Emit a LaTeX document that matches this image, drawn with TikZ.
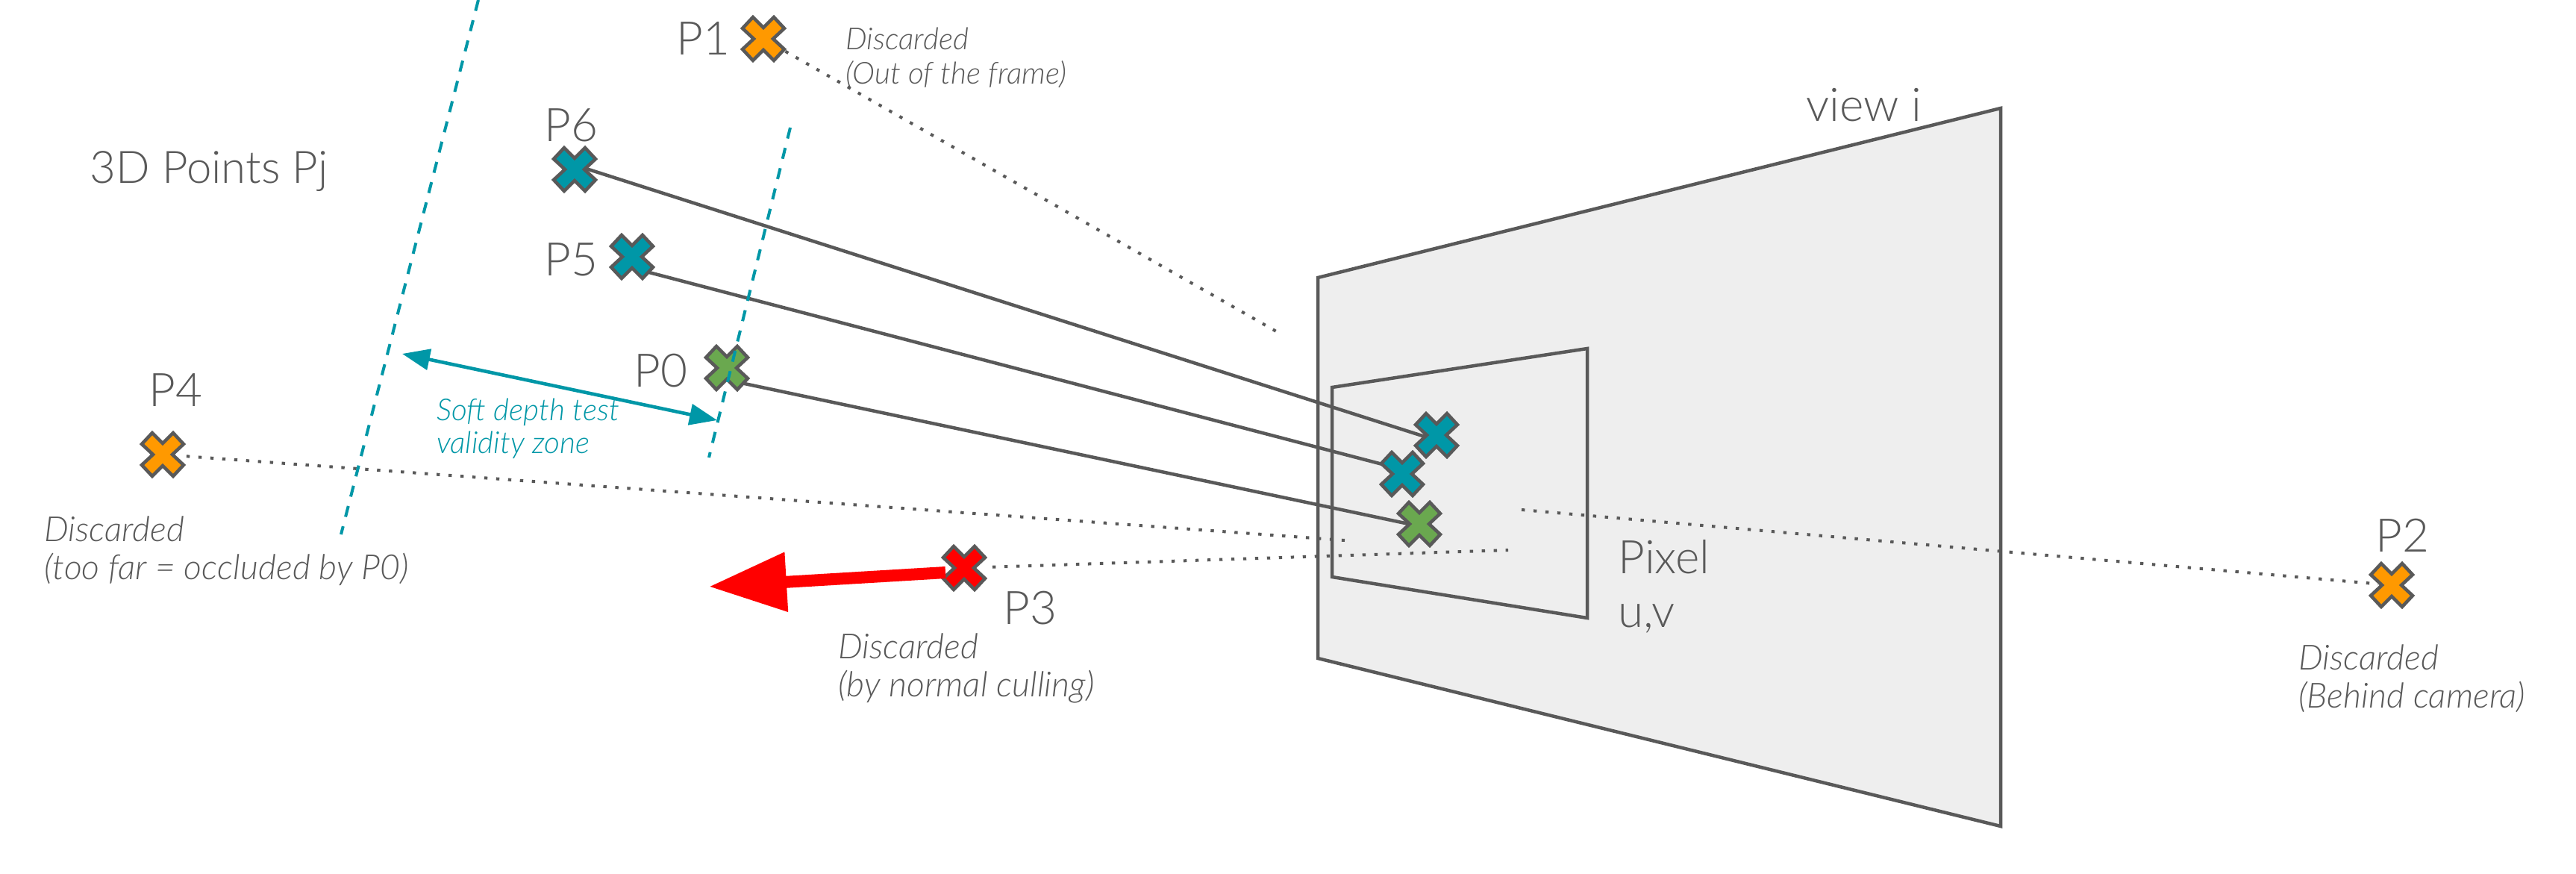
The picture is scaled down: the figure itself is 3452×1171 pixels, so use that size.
\documentclass[tikz,border=0pt]{standalone}
\usepackage{fontspec}
\setmainfont{Lato}[UprightFont={* Light},ItalicFont={* Light Italic}]
\usetikzlibrary{arrows.meta}
\definecolor{ink}{HTML}{595959}
\definecolor{tealc}{HTML}{0097A7}
\definecolor{orangec}{HTML}{FF9900}
\definecolor{greenc}{HTML}{6AA84F}
\definecolor{redc}{HTML}{FF0000}
\definecolor{planec}{HTML}{EEEEEE}
\tikzset{
  anchorpt/.style={circle,inner sep=0pt,minimum size=14pt},
  frameline/.style={draw=ink,line width=2.25pt,line join=miter},
  ray/.style={draw=ink,line width=2.25pt},
  dotline/.style={draw=ink,line width=2pt,dash pattern=on 2.2pt off 5.8pt},
  zoneline/.style={draw=tealc,line width=2pt,dash pattern=on 7.5pt off 6.5pt},
  crossmark/.style={draw=ink,line width=2.25pt,line join=miter},
  lab/.style={text=ink,inner sep=0pt,anchor=base west,font=\fontsize{31}{36}\selectfont},
  note/.style={text=ink,inner sep=0pt,anchor=north west,align=left,font=\fontsize{23.2}{25.5}\selectfont\itshape},
  smallnote/.style={note,font=\fontsize{20.3}{23}\selectfont\itshape},
  tealnote/.style={note,text=tealc,font=\fontsize{20.3}{22}\selectfont\itshape},
}
\newcommand{\crosspoly}[2]{%
  \draw[crossmark,fill=#2,shift={(#1)}] (-14,-29)--(0,-15)--(14,-29)--(28,-14)--(13,0)--(28,14)--(14,29)--(0,15)--(-14,29)--(-28,14)--(-13,0)--(-28,-14)--cycle;}
\begin{document}
\begin{tikzpicture}[x=0.5pt,y=-0.5pt]
\useasboundingbox[fill=white] (0,0) rectangle (3452,1171);
% view frames
\path[frameline,fill=planec] (1766,372)--(2681,145)--(2681,1107)--(1766,882)--cycle;
\path[frameline] (1785,519)--(2127,467)--(2127,828)--(1785,773)--cycle;
% point anchors
\node[anchorpt] (p0) at (974,493) {};
\node[anchorpt] (p1) at (1023,52) {};
\node[anchorpt] (p2) at (3205,784) {};
\node[anchorpt] (p3) at (1292,761) {};
\node[anchorpt] (p4) at (218,609) {};
\node[anchorpt] (p5) at (847,344) {};
\node[anchorpt] (p6) at (770,227) {};
\node[anchorpt] (q6) at (1925,583) {};
\node[anchorpt] (q5) at (1879,635) {};
\node[anchorpt] (q0) at (1902,702) {};
\coordinate (e1) at (1712,445);
\coordinate (e2) at (2039,683);
\coordinate (e3) at (2021,737);
\coordinate (e4) at (1802,724);
\coordinate (n3) at (950,786);
\coordinate (za) at (1059,171);
\coordinate (zb) at (950,613);
\coordinate (zc) at (641,0);
\coordinate (zd) at (457,716);
\coordinate (va) at (539,474);
\coordinate (vb) at (961,563);
% rays
\draw[ray] ([shift={(0,-6)}]p6.center) -- ([shift={(0,7)}]q6.center);
\draw[ray] ([shift={(0,15)}]p5.center) -- ([shift={(0,-6)}]q5.center);
\draw[ray] ([shift={(0,16)}]p0.center) -- ([shift={(0,3)}]q0.center);
% discarded rays
\draw[dotline,shorten <=9pt] (p1.center) -- (e1);
\draw[dotline,shorten >=9pt] (e2) -- (p2.center);
\draw[dotline,shorten <=19pt] (p3.center) -- (e3);
\draw[dotline,shorten <=16pt] (p4.center) -- (e4);
% crosses
\crosspoly{1023,52}{orangec}
\crosspoly{770,227}{tealc}
\crosspoly{847,344}{tealc}
\crosspoly{974,493}{greenc}
\crosspoly{218,609}{orangec}
\crosspoly{1292,761}{redc}
\crosspoly{3205,784}{orangec}
\crosspoly{1925,583}{tealc}
\crosspoly{1879,635}{tealc}
\crosspoly{1902,702}{greenc}
% zone
\draw[zoneline] (za) -- (zb);
\draw[zoneline] (zc) -- (zd);
\draw[draw=tealc,line width=2.3pt,{Triangle[length=18.5pt,width=14pt]}-{Triangle[length=18.5pt,width=14pt]}] (va) -- (vb);
% normal
\draw[draw=redc,fill=redc,line width=8pt,-{Triangle[length=52pt,width=38pt]}] ([shift={(-25,6)}]p3.center) -- (n3);
% labels
\node[lab,font=\fontsize{30}{36}\selectfont] (t3d) at (120,246) {3D Points Pj};
\node[lab] (tview) at (2420,163) {view i};
\node[lab] (t1) at (906,74) {P1};
\node[lab] (t6) at (729,190) {P6};
\node[lab] (t5) at (729,370) {P5};
\node[lab] (t0) at (849,518) {P0};
\node[lab] (t4) at (199,544) {P4};
\node[lab] (t3) at (1344,836) {P3};
\node[lab] (t2) at (3183,739) {P2};
\node[lab,anchor=north west,align=left] (tpix) at (2168,723) {Pixel\\u,v};
\node[smallnote] (d1) at (1133,37) {Discarded\\(Out of the frame)};
\node[note] (d4) at (59,691) {Discarded\\(too far = occluded by P0)};
\node[note] (d3) at (1123,848) {Discarded\\(by normal culling)};
\node[note] (d2) at (3080,863) {Discarded\\(Behind camera)};
\node[tealnote] (tz) at (585,534) {Soft depth test\\validity zone};
\end{tikzpicture}
\end{document}
